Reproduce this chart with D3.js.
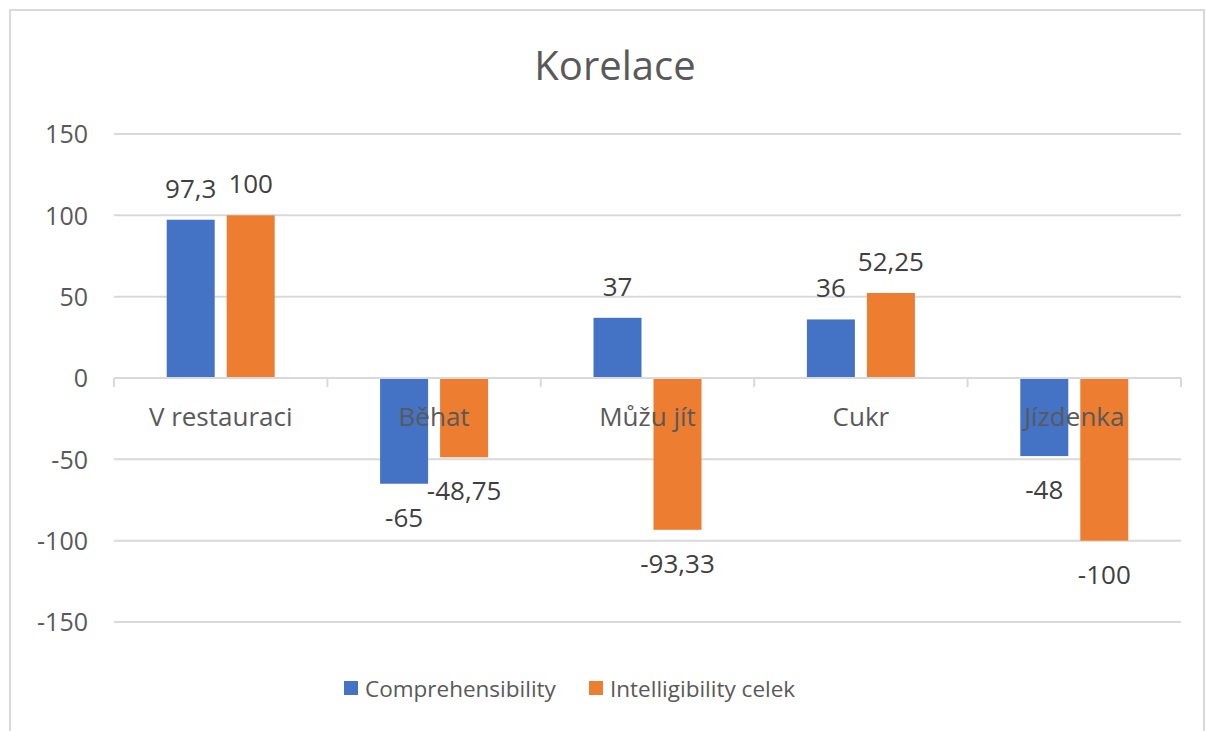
<!DOCTYPE html>
<html>
<head>
<meta charset="utf-8">
<script src="https://cdn.jsdelivr.net/npm/d3@7"></script>
<style>
  body { margin: 0; background: #fff; }
  svg text { font-family: 'Open Sans', sans-serif; }
</style>
</head>
<body>
<div id="chart"></div>
<script>
const categories = ['V restauraci', 'Běhat', 'Můžu jít', 'Cukr', 'Jízdenka'];
const seriesNames = ['Comprehensibility', 'Intelligibility celek'];
const comprehensibility = [97.3, -65, 37, 36, -48];
const intelligibility = [100, -48.75, -93.33, 52.25, -100];
const yTicks = [-150, -100, -50, 0, 50, 100, 150];
const colors = ['#4472C4', '#ED7D31'];

const w = 1206;
const h = 731;
const plotLeft = 114, plotRight = 1181;
const plotTop = 134, plotBottom = 622;

const svg = d3.select('#chart')
              .append('svg')
              .attr('width', w)
              .attr('height', h);

// chart frame
svg.append('rect')
   .attr('x', 10).attr('y', 10)
   .attr('width', 1194).attr('height', 740)
   .attr('fill', 'none')
   .attr('stroke', '#d9d9d9')
   .attr('stroke-width', 2);

svg.append('text')
   .attr('x', 615).attr('y', 80)
   .attr('text-anchor', 'middle')
   .attr('font-size', 40)
   .attr('fill', '#595959')
   .text('Korelace');

const xScale = d3.scaleBand()
                 .domain(categories)
                 .range([plotLeft, plotRight]);
const yScale = d3.scaleLinear()
                 .domain([-150, 150])
                 .range([plotBottom, plotTop]);

const barW = 48, gap = 12;

// gridlines
svg.append('g')
   .selectAll('line')
   .data(yTicks.filter(d => d !== 0))
   .enter()
   .append('line')
   .attr('x1', plotLeft).attr('x2', plotRight)
   .attr('y1', d => yScale(d)).attr('y2', d => yScale(d))
   .attr('stroke', '#d9d9d9')
   .attr('stroke-width', 2);

// y labels
const yAxis = d3.axisLeft(yScale)
                .tickValues(yTicks)
                .tickFormat(d => String(d))
                .tickSize(0)
                .tickPadding(0);
const gy = svg.append('g')
   .attr('transform', `translate(88, 0)`)
   .call(yAxis);
gy.select('.domain').remove();
gy.selectAll('text')
  .attr('font-size', 25)
  .attr('font-family', "'Open Sans', sans-serif")
  .attr('fill', '#595959')
  .attr('dy', '0.35em');

// bars
const series = [comprehensibility, intelligibility];
series.forEach((vals, s) => {
  const off = s === 0 ? -(barW + gap / 2) : gap / 2;
  svg.append('g')
     .selectAll('rect')
     .data(vals)
     .enter()
     .append('rect')
     .attr('x', (d, i) => xScale(categories[i]) + xScale.bandwidth() / 2 + off)
     .attr('width', barW)
     .attr('y', d => yScale(Math.max(0, d)))
     .attr('height', d => Math.abs(yScale(d) - yScale(0)))
     .attr('fill', colors[s]);
});

// zero axis line with category ticks
svg.append('line')
   .attr('x1', plotLeft).attr('x2', plotRight)
   .attr('y1', yScale(0)).attr('y2', yScale(0))
   .attr('stroke', '#d9d9d9')
   .attr('stroke-width', 2);
const bounds = categories.map(c => xScale(c)).concat([plotRight]);
svg.append('g')
   .selectAll('line')
   .data(bounds)
   .enter()
   .append('line')
   .attr('x1', d => d).attr('x2', d => d)
   .attr('y1', yScale(0)).attr('y2', yScale(0) + 9)
   .attr('stroke', '#d9d9d9')
   .attr('stroke-width', 2);

// category labels
svg.append('g')
   .selectAll('text')
   .data(categories)
   .enter()
   .append('text')
   .attr('x', d => xScale(d) + xScale.bandwidth() / 2)
   .attr('y', 426)
   .attr('text-anchor', 'middle')
   .attr('font-size', 26)
   .attr('fill', '#595959')
   .text(d => d);

// data labels
const fmt = v => String(v).replace('.', ',');
series.forEach((vals, s) => {
  const off = s === 0 ? -(barW / 2 + gap / 2) : gap / 2 + barW / 2;
  svg.append('g')
     .selectAll('text')
     .data(vals)
     .enter()
     .append('text')
     .attr('x', (d, i) => xScale(categories[i]) + xScale.bandwidth() / 2 + off)
     .attr('y', d => d >= 0 ? yScale(d) - 22 : yScale(d) + 43)
     .attr('text-anchor', 'middle')
     .attr('font-size', 26)
     .attr('fill', '#404040')
     .text(d => fmt(d));
});

// legend
const legendX = [344, 589];
const lg = svg.append('g');
seriesNames.forEach((name, s) => {
  lg.append('rect')
    .attr('x', legendX[s]).attr('y', 681)
    .attr('width', 14).attr('height', 14)
    .attr('fill', colors[s]);
  lg.append('text')
    .attr('x', legendX[s] + 21).attr('y', 697)
    .attr('font-size', 22.5)
    .attr('fill', '#595959')
    .text(name);
});
</script>
</body>
</html>
